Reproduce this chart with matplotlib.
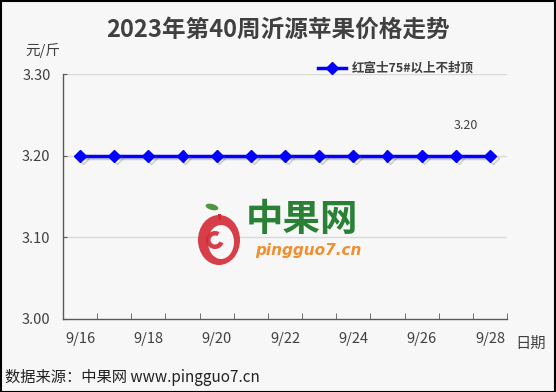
import matplotlib
matplotlib.use("Agg")
import matplotlib.pyplot as plt
import matplotlib.patheffects as pe
from matplotlib.patches import Ellipse, Wedge, Rectangle

plt.rcParams['font.family'] = ['Noto Sans CJK SC', 'DejaVu Sans']

title = "2023年第40周沂源苹果价格走势"
dates = ["9/16", "9/17", "9/18", "9/19", "9/20", "9/21", "9/22",
         "9/23", "9/24", "9/25", "9/26", "9/27", "9/28"]
prices = [3.20, 3.20, 3.20, 3.20, 3.20, 3.20, 3.20,
          3.20, 3.20, 3.20, 3.20, 3.20, 3.20]
series_name = "红富士75#以上不封顶"
y_ticks = [3.00, 3.10, 3.20, 3.30]
labelled_index = 11

W, H = 556, 392
fig = plt.figure(figsize=(W / 100, H / 100), dpi=100)
fig.patch.set_facecolor("#f7f7f7")

# outer frame
fig.add_artist(Rectangle((0.001, 0.001), 0.997, 0.996, transform=fig.transFigure,
                         fill=False, edgecolor="black", linewidth=1.5))

ax = fig.add_axes([63 / W, 1 - 319 / H, (507 - 63) / W, (319 - 74) / H])
ax.set_facecolor("#f7f7f7")

x = list(range(len(dates)))
ax.set_xlim(-0.5, len(dates) - 0.5)
ax.set_ylim(y_ticks[0], y_ticks[-1])

for s in ("top", "right"):
    ax.spines[s].set_visible(False)
for s in ("left", "bottom"):
    ax.spines[s].set_color("#595959")
    ax.spines[s].set_linewidth(1.0)

ax.set_yticks(y_ticks)
ax.set_yticklabels([f"{v:.2f}" for v in y_ticks], fontsize=10.5, color="#404040")
ax.tick_params(axis="y", direction="in", length=3, color="#595959", pad=9)
for v in y_ticks[1:]:
    ax.axhline(v, color="#d9d9d9", linewidth=1.0, zorder=0)

ax.set_xticks(x[::2])
ax.set_xticklabels(dates[::2], fontsize=10.5, color="#404040")
ax.set_xticks([i - 0.5 for i in range(len(dates) + 1)], minor=True)
ax.tick_params(axis="x", which="major", length=0, pad=9)
ax.tick_params(axis="x", which="minor", direction="in", length=4, color="#595959")

line, = ax.plot(x, prices, color="#0000ff", linewidth=2.5, marker="D",
                markersize=6, markerfacecolor="#0000ff", markeredgecolor="#0000ff",
                zorder=5)
line.set_path_effects([pe.SimpleLineShadow(offset=(2, -2), shadow_color="#666666", alpha=0.3),
                       pe.Normal()])

ax.annotate(f"{prices[labelled_index]:.2f}", (x[labelled_index], prices[labelled_index]),
            xytext=(7, 17), textcoords="offset points", ha="center", va="bottom",
            fontsize=9, color="#404040")

# title and axis captions
fig.text(0.5, 1 - 30 / H, title, ha="center", va="center", fontsize=17,
         fontweight="bold", color="#404040")
fig.text(25 / W, 1 - 50 / H, "元/斤", ha="left", va="center", fontsize=10.5, color="#404040")
fig.text(515 / W, 1 - 343 / H, "日期", ha="left", va="center", fontsize=11, color="#404040")
fig.text(5 / W, 1 - 378 / H, "数据来源：中果网 www.pingguo7.cn", ha="left", va="center",
         fontsize=11, color="#222222")

# legend
lg = fig.add_axes([0, 0, 1, 1], facecolor="none")
lg.set_xlim(0, W)
lg.set_ylim(H, 0)
lg.axis("off")
lg.plot([318, 346], [68, 68], color="#0000ff", linewidth=2.5)
lg.plot([332], [68], marker="D", color="#0000ff", markersize=6)
lg.text(352, 68, series_name, ha="left", va="center", fontsize=9,
        fontweight="bold", color="#404040")

# watermark logo
lg.add_patch(Ellipse((219, 240), 42, 50, facecolor="#d42a34", edgecolor="none", alpha=0.9))
lg.add_patch(Ellipse((221, 242), 26, 34, facecolor="#f7f7f7", edgecolor="none"))
lg.add_patch(Wedge((215, 240), 9, 20, 300, width=4.5, facecolor="#d42a34",
                   edgecolor="none", alpha=0.9))
lg.add_patch(Rectangle((218, 214), 3, 6, facecolor="#d42a34", edgecolor="none"))
lg.add_patch(Ellipse((212, 207), 13, 6, angle=15, facecolor="#3c8c2c",
                     edgecolor="none", alpha=0.9))
lg.text(246, 219, "中果网", ha="left", va="center", fontsize=27, fontweight="bold",
        color="#1f7a2a", alpha=0.95)
lg.text(255, 250, "pingguo7.cn", ha="left", va="center", fontsize=11, fontweight="bold",
        fontstyle="italic", color="#f08a24", alpha=0.95, family="DejaVu Sans")

fig.savefig("out.png", dpi=100, facecolor=fig.get_facecolor())
